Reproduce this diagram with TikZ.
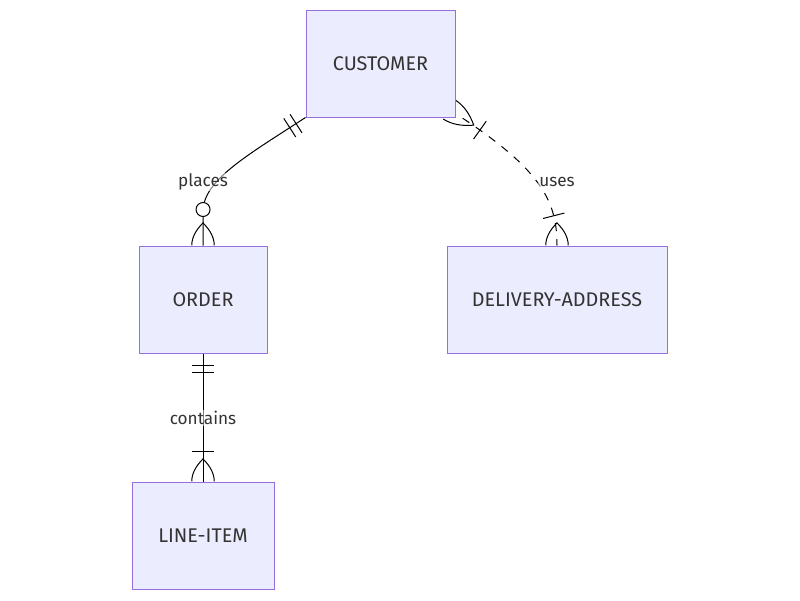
\documentclass[tikz,border=0pt]{standalone}
\usepackage{fontspec}
\setmainfont{Fira Sans}
\usetikzlibrary{decorations.markings,backgrounds}
\definecolor{entfill}{HTML}{ECECFF}
\definecolor{entline}{HTML}{9370DB}
\definecolor{ink}{HTML}{333333}
\tikzset{
  entity/.style={draw=entline, fill=entfill, line width=1pt, inner sep=0pt,
    minimum height=107pt, text=ink, font=\fontsize{19.8}{23}\selectfont},
  rel/.style={draw=black, line width=1pt},
  rellabel/.style={fill=white, fill opacity=0.5, text opacity=1, text=ink,
    inner sep=1pt, font=\fontsize{17.2}{20}\selectfont},
  % a bar across the line, #1 = distance along the path (negative: from the end)
  bar/.style={postaction={decorate,decoration={markings,
    mark=at position #1 with {\draw[solid,line width=1pt] (0pt,-11pt) -- (0pt,11pt);}}}},
  % crow's foot at the end of the path
  footend/.style={postaction={decorate,decoration={markings,
    mark=at position -0.1pt with {\draw[solid,line width=1pt]
      (0pt,11.25pt) .. controls (-7.5pt,11.25pt) and (-15pt,7.5pt) .. (-22.5pt,0pt)
      .. controls (-15pt,-7.5pt) and (-7.5pt,-11.25pt) .. (0pt,-11.25pt);}}}},
  % crow's foot at the start of the path, #1 = length of the foot
  footstart/.style={postaction={decorate,decoration={markings,
    mark=at position 0.1pt with {\draw[solid,line width=1pt]
      (0pt,11.25pt) .. controls ({#1/3},11.25pt) and ({2*#1/3},7.5pt) .. (#1,0pt)
      .. controls ({2*#1/3},-7.5pt) and ({#1/3},-11.25pt) .. (0pt,-11.25pt);}}}},
  % open ring for "zero", #1 = distance from the end
  ring/.style={postaction={decorate,decoration={markings,
    mark=at position #1 with {\draw[solid,line width=1pt,fill=white] (0pt,0pt) circle[radius=7pt];}}}},
}
\begin{document}
\begin{tikzpicture}[x=1pt,y=-1pt]
\useasboundingbox (0,0) rectangle (800,600);

% entities
\node[entity, minimum width=149pt] (cust)  at (380.5,63.5)  {CUSTOMER};
\node[entity, minimum width=128pt] (order) at (203,299.5)   {ORDER};
\node[entity, minimum width=220pt] (addr)  at (557,299.5)   {DELIVERY-ADDRESS};
\node[entity, minimum width=142pt] (item)  at (203,535.5)   {LINE-ITEM};

% relationships, kept behind the entity boxes
\begin{pgfonlayer}{background}
  % CUSTOMER ||--o{ ORDER
  \draw[rel, bar=11.25pt, bar=18.75pt, footend, ring=-36pt]
    (cust.south west) .. controls (248,155) and (203,180) ..
    ([yshift=34pt]order.north) -- (order.north);
  % CUSTOMER }|..|{ DELIVERY-ADDRESS
  \draw[rel, dashed, dash pattern=on 8pt off 8pt,
        footstart=29pt, bar=37pt, footend, bar=-30pt]
    ([xshift=-6.3pt,yshift=8pt]cust.south east) .. controls (541,168) and (557,200) ..
    (addr.north);
  % ORDER ||--|{ LINE-ITEM
  \draw[rel, bar=11.5pt, bar=18.5pt, footend, bar=-30pt]
    (order.south) -- (item.north);
\end{pgfonlayer}

% relationship labels
\node[rellabel] (lplaces)   at (203,182) {places};
\node[rellabel] (luses)     at (557,182) {uses};
\node[rellabel] (lcontains) at (203,418) {contains};
\end{tikzpicture}
\end{document}
